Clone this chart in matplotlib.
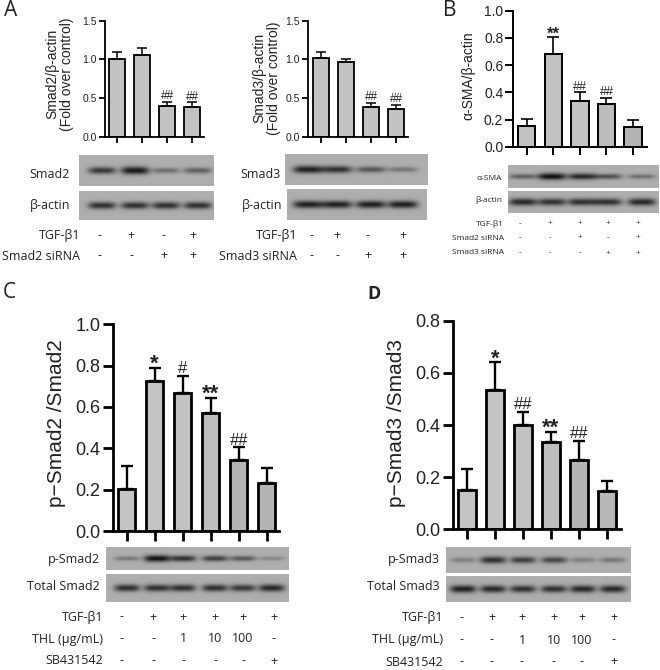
import numpy as np
import matplotlib
matplotlib.use("Agg")
import matplotlib.pyplot as plt

W, H = 660, 670
plt.rcParams["font.family"] = ["Liberation Sans", "DejaVu Sans"]

# bar heights and upper error lengths
a1_means = [1.00, 1.06, 0.40, 0.39]
a1_errs = [0.10, 0.09, 0.055, 0.055]
a2_means = [1.02, 0.96, 0.39, 0.36]
a2_errs = [0.07, 0.04, 0.05, 0.05]
b_means = [0.155, 0.685, 0.34, 0.315, 0.145]
b_errs = [0.05, 0.12, 0.06, 0.045, 0.05]
c_means = [0.205, 0.725, 0.67, 0.57, 0.345, 0.23]
c_errs = [0.11, 0.065, 0.08, 0.075, 0.06, 0.075]
d_means = [0.15, 0.535, 0.40, 0.335, 0.265, 0.145]
d_errs = [0.08, 0.105, 0.05, 0.04, 0.075, 0.04]

a1_marks = ["", "", "##", "##"]
a2_marks = ["", "", "##", "##"]
b_marks = ["", "**", "##", "##", ""]
c_marks = ["", "*", "#", "**", "##", ""]
d_marks = ["", "*", "##", "**", "##", ""]

# bar fills, the right hand bars are a bit darker in the scan
a_fills = ["#c2c2c2"] * 4
b_fills = ["#c2c2c2", "#c2c2c2", "#c2c2c2", "#bcbcbc", "#b4b4b4"]
c_fills = ["#c4c4c4", "#c4c4c4", "#c2c2c2", "#bebebe", "#b4b4b4", "#b4b4b4"]
d_fills = ["#c4c4c4", "#c4c4c4", "#c2c2c2", "#bebebe", "#b4b4b4", "#b8b8b8"]

# band strength per lane on the blots
smad2_bands = [0.75, 0.95, 0.4, 0.5]
smad2_actin = [0.8, 0.8, 0.8, 0.8]
smad3_bands = [0.9, 0.8, 0.55, 0.35]
smad3_actin = [0.9, 0.9, 0.9, 0.9]
sma_bands = [0.5, 1.0, 0.85, 0.6, 0.4]
sma_actin = [0.85, 0.8, 0.8, 0.8, 0.85]
psmad2_bands = [0.35, 1.0, 0.8, 0.7, 0.55, 0.25]
tsmad2_bands = [0.8, 0.8, 0.8, 0.8, 0.75, 0.85]
psmad3_bands = [0.3, 0.8, 0.7, 0.65, 0.3, 0.35]
tsmad3_bands = [0.9, 0.85, 0.8, 0.8, 0.85, 0.85]

# row labels and signs under the blots
a1_rows = [("TGF-β1", ["-", "+", "-", "+"]), ("Smad2 siRNA", ["-", "-", "+", "+"])]
a2_rows = [("TGF-β1", ["-", "+", "-", "+"]), ("Smad3 siRNA", ["-", "-", "+", "+"])]
b_rows = [("TGF-β1", ["-", "+", "+", "+", "+"]),
          ("Smad2 siRNA", ["-", "-", "+", "-", "+"]),
          ("Smad3 siRNA", ["-", "-", "-", "+", "+"])]
c_rows = [("TGF-β1", ["-", "+", "+", "+", "+", "+"]),
          ("THL (µg/mL)", ["-", "-", "1", "10", "100", "-"]),
          ("SB431542", ["-", "-", "-", "-", "-", "+"])]

fig = plt.figure(figsize=(W / 100, H / 100), dpi=100, facecolor="white")

# overlay in pixel coordinates for the blots and the text around them
ov = fig.add_axes([0, 0, 1, 1], zorder=0)
ov.axis("off")


def bar_panel(means, errs, marks, fills, left, right, top, bottom, centers, ymax, yticks,
              ylabel, tick_fs, label_fs, lw, width, hash_fs, star_fs, label_x, label_y):
    ax = fig.add_axes([left / W, 1 - bottom / H, (right - left) / W, (bottom - top) / H], zorder=2)
    ax.patch.set_alpha(0)
    step = centers[1] - centers[0]
    x = np.arange(len(means))
    ax.bar(x, means, width=width / step, color=fills, edgecolor="black", linewidth=lw)
    ax.errorbar(x, means, yerr=[np.zeros(len(errs)), errs], fmt="none", ecolor="black",
                elinewidth=lw * 0.85, capsize=width / 4.4, capthick=lw * 0.85)
    ax.set_xlim((left - centers[0]) / step, (right - centers[0]) / step)
    ax.set_ylim(0, ymax)
    ax.set_xticks(x)
    ax.set_xticklabels([])
    ax.set_yticks(yticks)
    ax.set_yticklabels(["%.1f" % t for t in yticks], fontsize=tick_fs, color="#222222")
    ax.tick_params(width=lw, length=tick_fs * 0.55, pad=1.5)
    for s in ["top", "right"]:
        ax.spines[s].set_visible(False)
    for s in ["left", "bottom"]:
        ax.spines[s].set_linewidth(lw)
    for i, m in enumerate(marks):
        if m:
            # asterisks sit high on the baseline, pull them down to the cap
            star = "*" in m
            fs = star_fs if star else hash_fs
            off = -0.1 * fs if star else 2
            ax.annotate(m, (i, means[i] + errs[i]), xytext=(0, off), textcoords="offset points",
                        ha="center", va="baseline", fontsize=fs, color="#222222",
                        fontweight="bold" if star else "normal", annotation_clip=False)
    ov.text(label_x, label_y, ylabel, rotation=90, ha="center", va="center",
            fontsize=label_fs, color="#222222", linespacing=1.05)
    return ax


def blot(x0, x1, y0, y1, lanes, strengths, band_w, band_h, bg=0.68):
    xs = np.linspace(x0, x1, int(x1 - x0) * 2)
    ys = np.linspace(y0, y1, int(y1 - y0) * 2)
    xx, yy = np.meshgrid(xs, ys)
    yc = (y0 + y1) / 2
    img = np.full(xx.shape, bg)
    for c, s in zip(lanes, strengths):
        img -= 0.62 * s * np.exp(-((xx - c) / band_w) ** 4) * np.exp(-((yy - yc) / (band_h * (0.55 + 0.6 * s))) ** 2)
    ov.imshow(img, extent=[x0, x1, y1, y0], cmap="gray", vmin=0, vmax=1, aspect="auto", interpolation="bilinear")


def sign_rows(rows, right_x, ys, sign_xs, fs, family="Open Sans"):
    for (name, signs), y in zip(rows, ys):
        ov.text(right_x, y, name, ha="right", va="center", fontsize=fs, family=[family, "DejaVu Sans"], color="#222222")
        for sx, sg in zip(sign_xs, signs):
            ov.text(sx, y, sg, ha="center", va="center", fontsize=fs, family=[family, "DejaVu Sans"], color="#222222")


def blot_label(right_x, y, name, fs):
    ov.text(right_x, y, name, ha="right", va="center", fontsize=fs, family=["Open Sans", "DejaVu Sans"], color="#222222")


# panel A, left
bar_panel(a1_means, a1_errs, a1_marks, a_fills, 104.7, 204, 20.7, 136.7, [117, 142, 167, 192], 1.5, [0, 0.5, 1.0, 1.5],
          "Smad2/β-actin\n(Fold over control)", 7.5, 10, 1.3, 15.5, 8.5, 12, 60, 74)
blot(79, 214, 155, 186, [102, 135, 166, 198], smad2_bands, 14, 3.5)
blot(79, 214, 191, 220, [102, 135, 166, 198], smad2_actin, 14, 3.5)
blot_label(70, 174, "Smad2", 9)
blot_label(70, 205, "β-actin", 9)
sign_rows(a1_rows, 80, [236, 256], [100, 131, 164, 193], 9)

# panel A, right
bar_panel(a2_means, a2_errs, a2_marks, a_fills, 308, 408, 20.7, 136.7, [321, 346, 371, 396], 1.5, [0, 0.5, 1.0, 1.5],
          "Smad3/β-actin\n(Fold over control)", 7.5, 10, 1.3, 15.5, 8.5, 12, 267, 78)
blot(285, 428, 154, 185, [308, 337, 371, 403], smad3_bands, 15, 3.5)
blot(287, 427, 189, 220, [308, 337, 371, 403], smad3_actin, 15, 3.5)
blot_label(281, 174, "Smad3", 9)
blot_label(282, 206, "β-actin", 9)
sign_rows(a2_rows, 297, [236, 256], [312, 337, 368, 403], 9)

# panel B
bar_panel(b_means, b_errs, b_marks, b_fills, 513, 647, 10.7, 147, [526.7, 553.3, 580, 606.7, 633.3], 1.0,
          [0, 0.2, 0.4, 0.6, 0.8, 1.0], "α-SMA/β-actin", 10, 10, 1.4, 17.5, 9, 12, 468, 76)
blot(508, 659, 165, 188, [523, 552, 582, 608, 642], sma_bands, 14, 3)
blot(508, 659, 191, 213, [523, 552, 582, 608, 642], sma_actin, 14, 3.5)
blot_label(502, 178, "α-SMA", 6)
blot_label(502, 200, "β-actin", 6)
sign_rows(b_rows, 504, [224, 238, 253], [520, 550, 580, 608, 638], 6)

# panel C
bar_panel(c_means, c_errs, c_marks, c_fills, 112.7, 279, 324.3, 531, [126.7, 154.7, 182.3, 210.3, 238.3, 266.3], 1.0,
          [0, 0.2, 0.4, 0.6, 0.8, 1.0], "p−Smad2 /Smad2", 13, 15, 2, 17.5, 12, 16, 57, 423)
blot(106, 289, 547, 570, [127, 157, 183, 215, 243, 272], psmad2_bands, 13, 3)
blot(106, 289, 574, 602, [127, 157, 183, 215, 243, 272], tsmad2_bands, 13, 3.5)
blot_label(100, 559, "p-Smad2", 9)
blot_label(100, 587, "Total Smad2", 9)
sign_rows(c_rows, 103, [617, 639, 661], [122, 153, 183, 215, 243, 274], 9)

# panel D
bar_panel(d_means, d_errs, d_marks, d_fills, 452.7, 620.7, 320.7, 529.3, [467, 495, 523, 551, 579, 607], 0.8,
          [0, 0.2, 0.4, 0.6, 0.8], "p−Smad3 /Smad3", 13, 15, 2, 17.5, 12, 16, 397, 423)
blot(446, 631, 547, 573, [463, 493, 523, 554, 583, 613], psmad3_bands, 13, 3.5)
blot(446, 631, 576, 602, [463, 493, 523, 554, 583, 613], tsmad3_bands, 13, 3.5)
blot_label(440, 559, "p-Smad3", 9)
blot_label(440, 587, "Total Smad3", 9)
sign_rows(c_rows, 443, [618, 640, 662], [462, 492, 522, 554, 582, 614], 9)

# panel letters
for letter, lx, ly, wt in [("A", 4, 10, "normal"), ("B", 443, 10, "normal"),
                           ("C", 3, 292, "normal"), ("D", 367, 294, "bold")]:
    ov.text(lx, ly, letter, ha="left", va="center", fontsize=15 if wt == "normal" else 13, fontweight=wt,
            family=["Open Sans", "DejaVu Sans"], color="#222222")

ov.set_xlim(0, W)
ov.set_ylim(H, 0)

fig.savefig("out.png", dpi=100)
